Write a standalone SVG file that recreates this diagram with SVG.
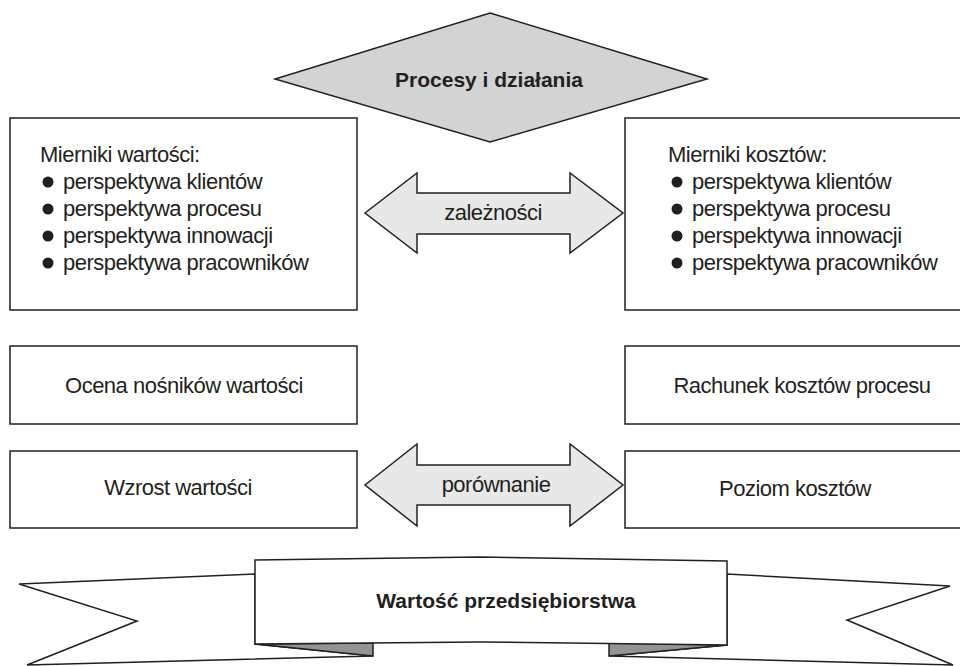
<svg xmlns="http://www.w3.org/2000/svg" width="960" height="666" viewBox="0 0 960 666">
<style>
.box{fill:#fff;stroke:#231f20;stroke-width:1.5}
.arr{fill:#e8e8e8;stroke:#231f20;stroke-width:1.5;stroke-linejoin:miter}
.dia{fill:#d3d3d4;stroke:#231f20;stroke-width:1.5}
.fold{fill:#939393;stroke:#231f20;stroke-width:1.5;stroke-linejoin:miter}
.rib{fill:#fff;stroke:#231f20;stroke-width:1.5;stroke-linejoin:miter}
text{font-family:"Liberation Sans",Arial,sans-serif;font-size:22px;letter-spacing:-0.5px;fill:#231f20}
.b{font-weight:bold;font-size:21px;letter-spacing:0}
.c{text-anchor:middle}
.dot{fill:#231f20}
</style>
<rect width="960" height="666" fill="#fff"/>
<g id="procesy">
<polygon class="dia" points="490,13 707,79 490,142 275,79"/>
<text class="b c" x="489" y="87">Procesy i działania</text>
</g>
<g id="mierniki-wartosci">
<rect class="box" x="10" y="118" width="347" height="192"/>
<text x="40" y="162">Mierniki wartości:</text>
<circle class="dot" cx="48" cy="182" r="5.5"/>
<text x="63" y="189">perspektywa klientów</text>
<circle class="dot" cx="48" cy="209" r="5.5"/>
<text x="63" y="216">perspektywa procesu</text>
<circle class="dot" cx="48" cy="236" r="5.5"/>
<text x="63" y="243">perspektywa innowacji</text>
<circle class="dot" cx="48" cy="263" r="5.5"/>
<text x="63" y="270">perspektywa pracowników</text>
</g>
<g id="mierniki-kosztow">
<rect class="box" x="625" y="118" width="340" height="192"/>
<text x="668" y="162">Mierniki kosztów:</text>
<circle class="dot" cx="677" cy="182" r="5.5"/>
<text x="692" y="189">perspektywa klientów</text>
<circle class="dot" cx="677" cy="209" r="5.5"/>
<text x="692" y="216">perspektywa procesu</text>
<circle class="dot" cx="677" cy="236" r="5.5"/>
<text x="692" y="243">perspektywa innowacji</text>
<circle class="dot" cx="677" cy="263" r="5.5"/>
<text x="692" y="270">perspektywa pracowników</text>
</g>
<g id="ocena">
<rect class="box" x="10" y="346" width="347" height="78"/>
<text class="c" x="184" y="393">Ocena nośników wartości</text>
</g>
<g id="rachunek">
<rect class="box" x="625" y="346" width="340" height="78"/>
<text class="c" x="802" y="393">Rachunek kosztów procesu</text>
</g>
<g id="wzrost">
<rect class="box" x="10" y="451" width="347" height="77"/>
<text class="c" x="178" y="495">Wzrost wartości</text>
</g>
<g id="poziom">
<rect class="box" x="625" y="451" width="340" height="77"/>
<text class="c" x="795" y="496">Poziom kosztów</text>
</g>
<g id="connectors">
<g id="zaleznosci">
<polygon class="arr" points="365,213 417,173 417,193 570,193 570,173 623,213 570,253 570,234 417,234 417,253"/>
<text class="c" x="493" y="220">zależności</text>
</g>
<g id="porownanie">
<polygon class="arr" points="365,485 417,444 417,465 570,465 570,444 623,485 570,526 570,505 417,505 417,526"/>
<text class="c" x="496" y="492">porównanie</text>
</g>
</g>
<g id="wartosc">
<polygon class="rib" points="19,584 255,574 255,644 373,656 27,665 137,621"/>
<polygon class="rib" points="950,586 727,574 727,645 609,656 953,665 847,620"/>
<polygon class="fold" points="255,644 373,643 373,656"/>
<polygon class="fold" points="609,643 727,645 609,656"/>
<polygon class="rib" points="255,560 480,557 727,561 727,645 480,642 255,644"/>
<text class="b c" x="506" y="608">Wartość przedsiębiorstwa</text>
</g>
</svg>
